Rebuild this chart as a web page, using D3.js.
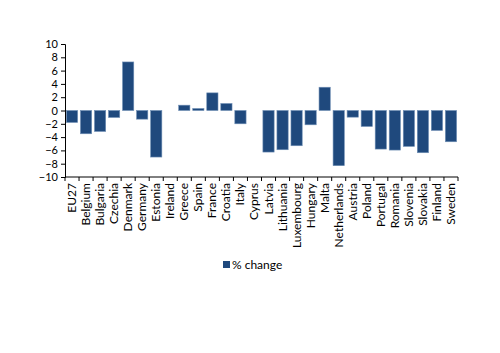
<!DOCTYPE html>
<html>
<head>
<meta charset="utf-8">
<script src="https://cdn.jsdelivr.net/npm/d3@7"></script>
<style>
  body { margin: 0; background: #fff; }
  svg text { font-family: Lato, "Open Sans", sans-serif; fill: #000; }
</style>
</head>
<body>
<div id="chart"><svg></svg></div>
<script>
// categories and values
const countries = ['EU27', 'Belgium', 'Bulgaria', 'Czechia', 'Denmark', 'Germany', 'Estonia', 'Ireland',
  'Greece', 'Spain', 'France', 'Croatia', 'Italy', 'Cyprus', 'Latvia', 'Lithuania', 'Luxembourg',
  'Hungary', 'Malta', 'Netherlands', 'Austria', 'Poland', 'Portugal', 'Romania', 'Slovenia',
  'Slovakia', 'Finland', 'Sweden']
const pctChange = [-1.8, -3.5, -3.15, -1.05, 7.3, -1.3, -7.0, null,
  0.8, 0.3, 2.65, 1.05, -2.0, null, -6.25, -5.9, -5.3,
  -2.15, 3.5, -8.3, -1.0, -2.4, -5.8, -5.95, -5.4,
  -6.35, -3.0, -4.7]
const yTicks = [10, 8, 6, 4, 2, 0, -2, -4, -6, -8, -10]
const seriesName = '% change'

const width = 500
const height = 353
const margin = { top: 44, left: 65, right: 42, bottom: 176 }
const barColor = '#1f497d'

const svg = d3.select('#chart svg')
  .attr('width', width)
  .attr('height', height)

const x = d3.scaleBand()
  .domain(countries)
  .range([margin.left, width - margin.right])
  .paddingInner(0.2)
  .paddingOuter(0.1)

const y = d3.scaleLinear()
  .domain([-10, 10])
  .range([height - margin.bottom, margin.top])

// bars
svg.append('g')
  .selectAll('rect')
  .data(countries.map((c, i) => ({ c, v: pctChange[i] })).filter(d => d.v !== null))
  .join('rect')
  .attr('x', d => x(d.c))
  .attr('width', x.bandwidth())
  .attr('y', d => y(Math.max(0, d.v)))
  .attr('height', d => Math.abs(y(d.v) - y(0)))
  .attr('fill', barColor)
  .attr('stroke', '#6f8fb5')
  .attr('stroke-width', 0.6)

// y axis
const yAxis = svg.append('g')
  .attr('transform', `translate(${margin.left},0)`)
  .call(d3.axisLeft(y).tickValues(yTicks).tickSize(4).tickPadding(3).tickFormat(d3.format('d')))
yAxis.selectAll('text').style('font-size', '11px')
yAxis.select('.domain').attr('stroke', '#000')

// x axis, ticks on the band edges
const xBase = y(-10)
const x0 = margin.left
const xAxis = svg.append('g')
xAxis.append('line')
  .attr('x1', x0).attr('x2', width - margin.right)
  .attr('y1', xBase).attr('y2', xBase)
  .attr('stroke', '#000')
xAxis.selectAll('line.tick')
  .data(d3.range(countries.length + 1))
  .join('line')
  .attr('class', 'tick')
  .attr('x1', i => x0 + i * (width - margin.right - x0) / countries.length)
  .attr('x2', i => x0 + i * (width - margin.right - x0) / countries.length)
  .attr('y1', xBase).attr('y2', xBase + 4)
  .attr('stroke', '#000')
xAxis.selectAll('text')
  .data(countries)
  .join('text')
  .attr('transform', d => `translate(${x(d) + x.bandwidth() / 2 + 4},${xBase + 6}) rotate(-90)`)
  .attr('text-anchor', 'end')
  .style('font-size', '12px')
  .text(d => d)

// legend
const legend = svg.append('g').attr('transform', 'translate(223,259)')
legend.append('rect')
  .attr('width', 7).attr('height', 7)
  .attr('y', 2)
  .attr('fill', barColor)
legend.append('text')
  .attr('x', 9).attr('y', 10)
  .style('font-size', '12px')
  .text(seriesName)
</script>
</body>
</html>
